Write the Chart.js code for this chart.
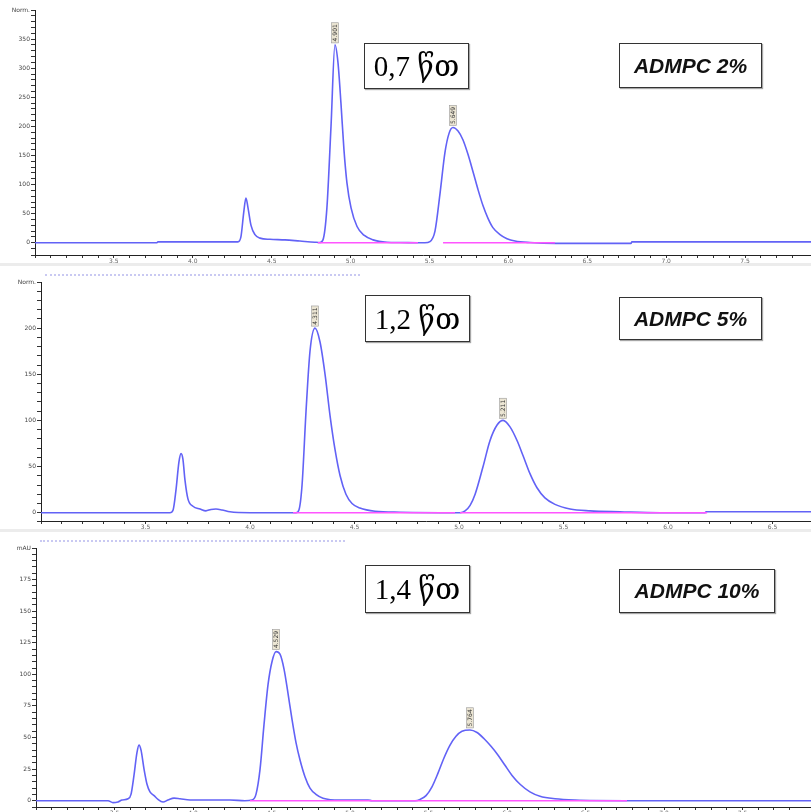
<!DOCTYPE html>
<html><head><meta charset="utf-8">
<script src="https://cdn.jsdelivr.net/npm/chart.js@4.4.0/dist/chart.umd.min.js"></script>
<style>
html,body{margin:0;padding:0;background:#fff;}
#wrap{position:relative;width:811px;height:812px;overflow:hidden;background:#fff;}
canvas{position:absolute;left:0;}
.box{position:absolute;border:1.5px solid #333;box-sizing:border-box;display:flex;align-items:center;justify-content:center;background:#fff;color:#000;box-shadow:1px 1px 1px rgba(0,0,0,0.35);}
.t{font-family:"Liberation Serif","DejaVu Serif","DejaVu Sans",serif;font-size:29px;white-space:nowrap;}
.a{font-family:"Liberation Sans","DejaVu Sans",sans-serif;font-style:italic;font-weight:bold;font-size:21px;white-space:nowrap;color:#111;}
.sep{position:absolute;left:0;width:811px;height:3px;background:#ececec;}
.dots{position:absolute;height:0;border-top:2px dotted #c9c9f2;}
</style></head>
<body>
<div id="wrap">
  <canvas id="c1" width="811" height="264" style="top:0px"></canvas>
  <canvas id="c2" width="811" height="264" style="top:266px"></canvas>
  <canvas id="c3" width="811" height="280" style="top:532px"></canvas>
  <div class="sep" style="top:263px"></div>
  <div class="sep" style="top:529px"></div>
  <div class="dots" style="left:45px;top:274px;width:315px"></div>
  <div class="dots" style="left:40px;top:540px;width:305px"></div>
  <div class="box" style="left:364px;top:43px;width:105px;height:46px"><span class="t">0,7 წთ</span></div>
  <div class="box" style="left:619px;top:43px;width:143px;height:45px"><span class="a">ADMPC 2%</span></div>
  <div class="box" style="left:365px;top:295px;width:105px;height:47px"><span class="t">1,2 წთ</span></div>
  <div class="box" style="left:619px;top:297px;width:143px;height:43px"><span class="a">ADMPC 5%</span></div>
  <div class="box" style="left:365px;top:565px;width:105px;height:48px"><span class="t">1,4 წთ</span></div>
  <div class="box" style="left:619px;top:569px;width:156px;height:44px"><span class="a">ADMPC 10%</span></div>
</div>
<script>
// ---------- Panel 1 : ADMPC 2% ----------
const p1Time   = [3.000, 3.773, 3.779, 4.286, 4.305, 4.324, 4.337, 4.350, 4.369, 4.394, 4.426, 4.489, 4.584, 4.679, 4.774, 4.806, 4.825, 4.850, 4.876, 4.901, 4.920, 4.939, 4.958, 4.977, 5.003, 5.041, 5.085, 5.142, 5.231, 5.313, 5.471, 5.503, 5.535, 5.567, 5.598, 5.624, 5.649, 5.681, 5.712, 5.744, 5.776, 5.807, 5.839, 5.871, 5.902, 5.947, 5.991, 6.042, 6.137, 6.302, 6.777, 6.783, 7.918];
const p1Signal = [0, 0, 1.5, 1.5, 10, 55, 77, 60, 30, 14, 8, 6, 5, 3, 1, 0.5, 5, 60, 200, 340, 310, 240, 160, 103, 60, 28, 13, 5, 1, 0.5, 0, 2, 20, 85, 155, 188, 198, 192, 177, 152, 122, 92, 64, 42, 26, 14, 7, 3, 0.5, -1, -1, 1.5, 1.5];
const p1BaseTime   = [4.793, 5.427, 5.500, 5.586, 6.295];
const p1BaseSignal = [0, 0, null, 0, 0];
const p1PeakTime = [4.901, 5.649];
const p1PeakText = ['4.901', '5.649'];
const p1Unit = 'Norm.';

// ---------- Panel 2 : ADMPC 5% ----------
const p2Time   = [3.000, 3.617, 3.632, 3.646, 3.660, 3.670, 3.679, 3.689, 3.703, 3.727, 3.761, 3.789, 3.813, 3.837, 3.866, 3.904, 4.000, 4.220, 4.234, 4.249, 4.268, 4.287, 4.311, 4.335, 4.359, 4.383, 4.407, 4.431, 4.459, 4.488, 4.526, 4.598, 4.718, 4.981, 5.005, 5.029, 5.053, 5.077, 5.115, 5.148, 5.182, 5.211, 5.244, 5.278, 5.306, 5.340, 5.373, 5.411, 5.459, 5.531, 5.627, 5.770, 5.962, 6.177, 6.182, 6.684];
const p2Signal = [0, 0, 3, 25, 55, 64, 58, 35, 15, 7, 4, 2, 3.5, 4, 3, 1, 0, 0, 3, 30, 110, 175, 200, 185, 150, 105, 68, 40, 20, 10, 5, 1.5, 0.5, 0, 0, 2, 8, 20, 50, 78, 95, 100, 93, 78, 62, 42, 27, 16, 9, 4, 2, 1, 0, 0, 1, 1];
const p2BaseTime   = [4.206, 4.981, 4.990, 5.005, 6.187];
const p2BaseSignal = [0, 0, null, 0, 0];
const p2PeakTime = [4.311, 5.211];
const p2PeakText = ['4.311', '5.211'];
const p2Unit = 'Norm.';

// ---------- Panel 3 : ADMPC 10% ----------
const p3Time   = [3.000, 3.459, 3.490, 3.522, 3.548, 3.586, 3.605, 3.624, 3.643, 3.656, 3.669, 3.688, 3.707, 3.726, 3.752, 3.777, 3.809, 3.841, 3.879, 3.917, 3.981, 4.236, 4.331, 4.376, 4.401, 4.427, 4.452, 4.478, 4.503, 4.529, 4.554, 4.580, 4.605, 4.631, 4.656, 4.682, 4.713, 4.745, 4.783, 4.828, 4.936, 5.115, 5.140, 5.414, 5.446, 5.484, 5.522, 5.561, 5.599, 5.637, 5.675, 5.713, 5.764, 5.809, 5.854, 5.898, 5.943, 5.987, 6.032, 6.083, 6.146, 6.210, 6.306, 6.433, 6.752, 7.936];
const p3Signal = [0, 0, -1.5, -1, 0.5, 1.5, 5, 20, 38, 44, 40, 25, 13, 7, 4, 1, -1, 0.5, 2, 1.5, 0.5, 0.5, 0, 0.5, 5, 25, 60, 92, 110, 118, 116, 104, 85, 64, 46, 32, 19, 10, 5, 2, 0.5, 0.5, 0, 0, 1, 4, 11, 22, 34, 44, 51, 55, 56, 54, 49, 43, 36, 28, 20, 13, 7, 3.5, 1.5, 0.5, 0, 0];
const p3BaseTime   = [4.363, 6.764];
const p3BaseSignal = [0, 0];
const p3PeakTime = [4.529, 5.764];
const p3PeakText = ['4.529', '5.764'];
const p3Unit = 'mAU';

const BLUE = 'rgb(98,98,246)';
const PINK = 'rgb(255,85,255)';

function buildChart(id, o) {
  const blue = o.time.map((t, i) => ({x: t, y: o.signal[i]}));
  const pink = o.baseTime.map((t, i) => ({x: t, y: o.baseSignal[i]}));
  const peakPlugin = {
    id: 'peaks_' + id,
    afterDatasetsDraw(chart) {
      const c = chart.ctx, xs = chart.scales.x, ys = chart.scales.y;
      o.peakTime.forEach((t, k) => {
        const i = o.time.indexOf(t);
        const px = xs.getPixelForValue(t), py = ys.getPixelForValue(o.signal[i]);
        const txt = o.peakText[k];
        c.save();
        c.font = '6px "DejaVu Sans"';
        const w = c.measureText(txt).width;
        c.translate(px, py - 2);
        c.rotate(-Math.PI / 2);
        c.fillStyle = '#ebe5d3';
        c.fillRect(0, -3.5, w + 3, 7);
        c.strokeStyle = '#9a9a9a';
        c.lineWidth = 0.6;
        c.strokeRect(0, -3.5, w + 3, 7);
        c.fillStyle = '#333';
        c.textBaseline = 'middle';
        c.fillText(txt, 1.5, 0.5);
        c.restore();
      });
    }
  };
  return new Chart(document.getElementById(id), {
    type: 'line',
    data: {
      datasets: [
        {data: pink, borderColor: PINK, borderWidth: 1.6, pointRadius: 0, spanGaps: false, fill: false},
        {data: blue, borderColor: BLUE, borderWidth: 1.6, pointRadius: 0, cubicInterpolationMode: 'monotone', fill: false}
      ]
    },
    options: {
      responsive: false,
      animation: false,
      devicePixelRatio: 1,
      layout: {padding: {top: o.padTop, left: 0, right: 0, bottom: 0}},
      plugins: {legend: {display: false}, tooltip: {enabled: false}},
      scales: {
        x: {
          type: 'linear', min: o.xMin, max: o.xMax,
          afterFit(s) { s.height = o.xH; },
          border: {display: true, color: '#222', width: 1},
          grid: {drawOnChartArea: false, drawTicks: true, tickLength: 3, color: '#333'},
          ticks: {
            stepSize: 0.1, autoSkip: false, maxRotation: 0, minRotation: 0, padding: 0,
            font: {size: 6, family: 'DejaVu Sans'}, color: '#666',
            callback(v) {
              const r = Math.round(v * 2);
              return (Math.abs(v * 2 - r) < 1e-6 && v > o.xMin + 1e-6) ? (r / 2).toFixed(1) : '';
            }
          }
        },
        y: {
          type: 'linear', min: o.yMin, max: o.yMax,
          afterFit(s) { s.width = o.yW; },
          border: {display: true, color: '#222', width: 1},
          grid: {drawOnChartArea: false, drawTicks: true, tickLength: 4, color: '#333'},
          ticks: {
            stepSize: o.yStep, autoSkip: false, padding: 1,
            font: {size: 6, family: 'DejaVu Sans'}, color: '#444',
            callback(v) {
              if (v === o.yMax) return o.unit;
              return (v >= 0 && v % o.yLabelStep === 0) ? String(v) : '';
            }
          }
        }
      }
    },
    plugins: [peakPlugin]
  });
}

buildChart('c1', {time: p1Time, signal: p1Signal, baseTime: p1BaseTime, baseSignal: p1BaseSignal,
  peakTime: p1PeakTime, peakText: p1PeakText, unit: p1Unit,
  xMin: 3.0, xMax: 7.918, yMin: -21, yMax: 400, yStep: 10, yLabelStep: 50, yW: 35, xH: 9, padTop: 10});
buildChart('c2', {time: p2Time, signal: p2Signal, baseTime: p2BaseTime, baseSignal: p2BaseSignal,
  peakTime: p2PeakTime, peakText: p2PeakText, unit: p2Unit,
  xMin: 3.0, xMax: 6.684, yMin: -9, yMax: 250, yStep: 10, yLabelStep: 50, yW: 41, xH: 9, padTop: 16});
buildChart('c3', {time: p3Time, signal: p3Signal, baseTime: p3BaseTime, baseSignal: p3BaseSignal,
  peakTime: p3PeakTime, peakText: p3PeakText, unit: p3Unit,
  xMin: 3.0, xMax: 7.936, yMin: -5, yMax: 200, yStep: 5, yLabelStep: 25, yW: 36, xH: 5, padTop: 16});
</script>
</body></html>
